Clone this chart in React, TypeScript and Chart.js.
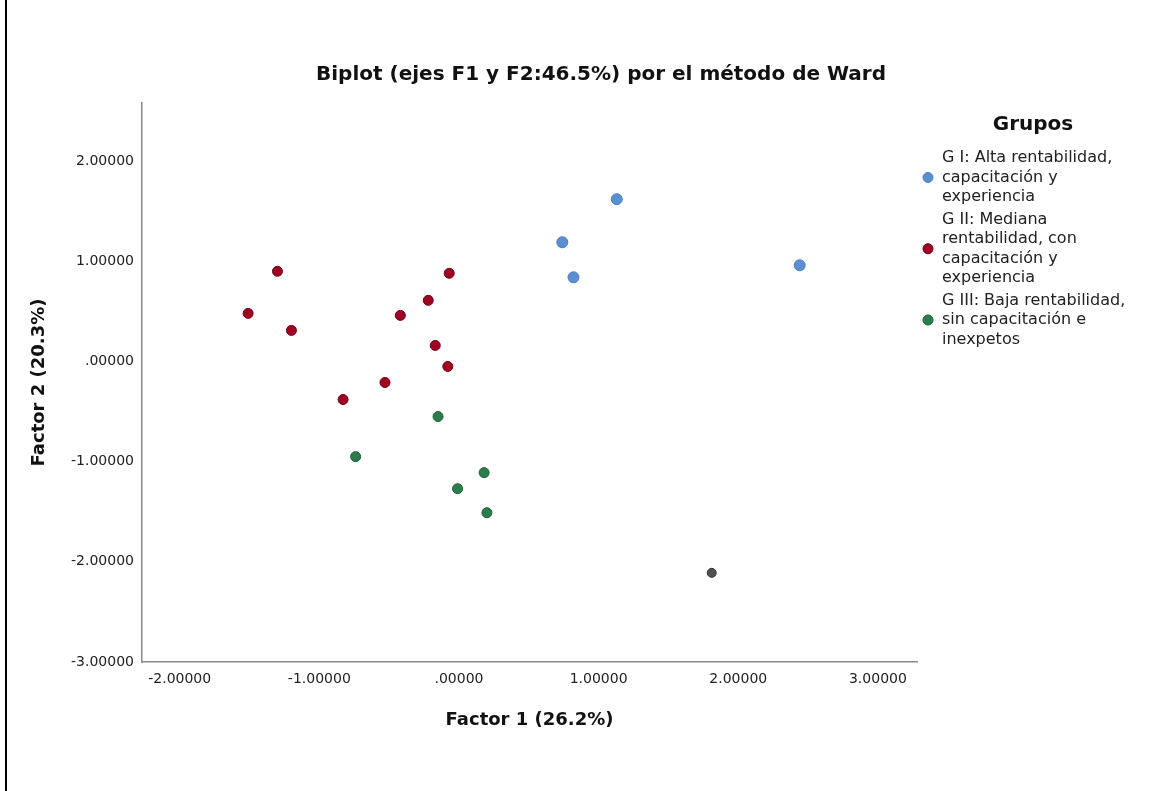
import React, { useEffect, useRef } from "react";
import { Chart, registerables } from "chart.js";

Chart.register(...registerables);

// ---- Data ----
const chartTitle = "Biplot (ejes F1 y F2:46.5%) por el método de Ward";
const xAxisTitle = "Factor 1 (26.2%)";
const yAxisTitle = "Factor 2 (20.3%)";
const legendTitle = "Grupos";

const xTicks = [-2, -1, 0, 1, 2, 3];
const yTicks = [-3, -2, -1, 0, 1, 2];

const gILabel = ["G I: Alta rentabilidad,", "capacitación y", "experiencia"];
const gIILabel = ["G II: Mediana", "rentabilidad, con", "capacitación y", "experiencia"];
const gIIILabel = ["G III: Baja rentabilidad,", "sin capacitación e", "inexpetos"];

const gIx = [1.13, 0.74, 0.82, 2.44];
const gIy = [1.62, 1.19, 0.84, 0.96];

const gIIx = [-1.30, -1.51, -1.20, -0.07, -0.22, -0.42, -0.17, -0.08, -0.53, -0.83];
const gIIy = [0.90, 0.48, 0.31, 0.88, 0.61, 0.46, 0.16, -0.05, -0.21, -0.38];

const gIIIx = [-0.15, -0.74, 0.18, -0.01, 0.20];
const gIIIy = [-0.55, -0.95, -1.11, -1.27, -1.51];

const otherX = [1.81];
const otherY = [-2.11];

const colorI = "#5b8fd1";
const colorII = "#a10022";
const colorIII = "#2b7d4c";
const colorOther = "#505050";

const FONT = "DejaVu Sans";

const fmt = (v: number) => (Math.abs(v) < 1e-9 ? ".00000" : v.toFixed(5));
const toPts = (xs: number[], ys: number[]) => xs.map((x, i) => ({ x, y: ys[i] }));

const legendGroups = [
  { lines: gILabel, color: colorI, border: "#4a7dbd" },
  { lines: gIILabel, color: colorII, border: "#6a0014" },
  { lines: gIIILabel, color: colorIII, border: "#1f5e38" },
];

const decorPlugin = {
  id: "decor",
  afterDraw(chart: any) {
    const ctx = chart.ctx;
    ctx.save();
    // left frame line
    ctx.fillStyle = "#000";
    ctx.fillRect(5, 0, 2, chart.height);
    // title
    ctx.fillStyle = "#111";
    ctx.font = `bold 20px "${FONT}"`;
    ctx.textAlign = "center";
    ctx.textBaseline = "middle";
    ctx.fillText(chartTitle, 601, 75);
    // legend title
    ctx.font = `bold 20px "${FONT}"`;
    ctx.fillText(legendTitle, 1033, 125);
    // legend items
    ctx.font = `16px "${FONT}"`;
    ctx.textAlign = "left";
    const lh = 19.5;
    let y = 158;
    legendGroups.forEach((g) => {
      const start = y;
      g.lines.forEach((line) => {
        ctx.fillStyle = "#222";
        ctx.fillText(line, 942, y);
        y += lh;
      });
      const end = y - lh;
      const cy = (start + end) / 2;
      ctx.beginPath();
      ctx.arc(928, cy, 5, 0, Math.PI * 2);
      ctx.fillStyle = g.color;
      ctx.fill();
      ctx.lineWidth = 1;
      ctx.strokeStyle = g.border;
      ctx.stroke();
      y += 3;
    });
    ctx.restore();
  },
};

export default function App() {
  const ref = useRef<HTMLCanvasElement | null>(null);
  useEffect(() => {
    if (!ref.current) return;
    const chart = new Chart(ref.current, {
      type: "scatter",
      data: {
        datasets: [
          {
            label: gILabel.join(" "),
            data: toPts(gIx, gIy),
            backgroundColor: colorI,
            borderColor: "#4a7dbd",
            borderWidth: 1,
            pointRadius: 5.5,
          },
          {
            label: gIILabel.join(" "),
            data: toPts(gIIx, gIIy),
            backgroundColor: colorII,
            borderColor: "#6a0014",
            borderWidth: 1,
            pointRadius: 5,
          },
          {
            label: gIIILabel.join(" "),
            data: toPts(gIIIx, gIIIy),
            backgroundColor: colorIII,
            borderColor: "#1f5e38",
            borderWidth: 1,
            pointRadius: 5,
          },
          {
            label: "",
            data: toPts(otherX, otherY),
            backgroundColor: colorOther,
            borderColor: "#333",
            borderWidth: 1,
            pointRadius: 4.5,
          },
        ],
      },
      options: {
        responsive: false,
        animation: false,
        layout: { padding: { left: 0, top: 103, right: 252, bottom: 0 } },
        plugins: {
          legend: { display: false },
          title: { display: false },
          tooltip: { enabled: false },
        },
        scales: {
          x: {
            type: "linear",
            position: "bottom",
            min: -2.27,
            max: 3.28,
            grid: { display: false, drawTicks: false },
            border: { display: true, color: "#8a8a8a", width: 1.5 },
            afterBuildTicks: (s: any) => {
              s.ticks = xTicks.map((v) => ({ value: v }));
            },
            afterFit: (s: any) => {
              s.height = 129;
            },
            ticks: {
              padding: 9,
              color: "#222",
              font: { family: FONT, size: 14 },
              callback: (v: any) => fmt(Number(v)),
              maxRotation: 0,
            },
            title: {
              display: true,
              text: xAxisTitle,
              color: "#111",
              font: { family: FONT, size: 18, weight: "bold" },
              padding: { top: 0, bottom: 60 },
            },
          },
          y: {
            type: "linear",
            position: "left",
            min: -3,
            max: 2.58,
            grid: { display: false, drawTicks: false },
            border: { display: true, color: "#8a8a8a", width: 1.5 },
            afterBuildTicks: (s: any) => {
              s.ticks = yTicks.map((v) => ({ value: v }));
            },
            afterFit: (s: any) => {
              s.width = 142;
            },
            ticks: {
              padding: 8,
              color: "#222",
              font: { family: FONT, size: 14 },
              callback: (v: any) => fmt(Number(v)),
            },
            title: {
              display: true,
              text: yAxisTitle,
              color: "#111",
              font: { family: FONT, size: 18, weight: "bold" },
              padding: { top: 29, bottom: 0 },
            },
          },
        },
      },
      plugins: [decorPlugin],
    } as any);
    return () => chart.destroy();
  }, []);
  return (
    <div style={{ position: "fixed", left: 0, top: 0, width: 1169, height: 791, background: "#fff" }}>
      <canvas ref={ref} width={1169} height={791} style={{ display: "block", width: 1169, height: 791 }} />
    </div>
  );
}
